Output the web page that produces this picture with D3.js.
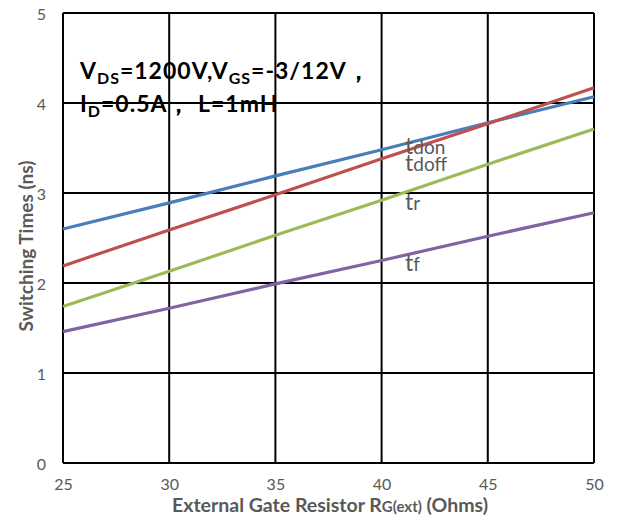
<!DOCTYPE html>
<html>
<head>
<meta charset="utf-8">
<script src="https://cdn.jsdelivr.net/npm/d3@7"></script>
<style>
  html, body { margin: 0; padding: 0; background: #fff; }
  svg { display: block; font-family: Lato, "Open Sans", sans-serif; }
</style>
</head>
<body>
<svg id="chart" width="617" height="517"></svg>
<script>
// Gate resistance (Ohms)
const rg = [25, 30, 35, 40, 45, 50];
// Switching times (ns)
const tdon  = [2.60, 2.89, 3.19, 3.48, 3.78, 4.07];
const tdoff = [2.19, 2.59, 2.98, 3.38, 3.77, 4.17];
const tr    = [1.74, 2.13, 2.53, 2.92, 3.32, 3.71];
const tf    = [1.46, 1.72, 1.99, 2.25, 2.52, 2.78];
const xTicks = [25, 30, 35, 40, 45, 50];
const yTicks = [0, 1, 2, 3, 4, 5];

const series = [
  { name: "don",  values: tdon,  color: "#4a7ebb", labelY: 154 },
  { name: "doff", values: tdoff, color: "#c0504d", labelY: 171 },
  { name: "r",    values: tr,    color: "#9bbb59", labelY: 210 },
  { name: "f",    values: tf,    color: "#8064a2", labelY: 271 }
];

const svg = d3.select("#chart");
const plotL = 63, plotR = 594, plotT = 13, plotB = 463;

const x = d3.scaleLinear().domain([25, 50]).range([plotL, plotR]);
const y = d3.scaleLinear().domain([0, 5]).range([plotB, plotT]);

// grid
const g = svg.append("g");
g.selectAll("line.v").data(xTicks).join("line")
  .attr("x1", d => x(d)).attr("x2", d => x(d))
  .attr("y1", plotT).attr("y2", plotB)
  .attr("stroke", "#000").attr("stroke-width", 2);
g.selectAll("line.h").data(yTicks).join("line")
  .attr("x1", plotL).attr("x2", plotR)
  .attr("y1", d => y(d)).attr("y2", d => y(d))
  .attr("stroke", "#000").attr("stroke-width", 2);

// axes tick labels
const yAxis = d3.axisLeft(y).tickValues(yTicks).tickFormat(d3.format("d"))
  .tickSize(0).tickPadding(17);
const ya = svg.append("g").attr("transform", `translate(${plotL},1)`).call(yAxis);
ya.select(".domain").remove();
ya.selectAll("text").attr("fill", "#595959").attr("font-size", 16)
  .attr("font-family", "Lato, 'Open Sans', sans-serif");

const xAxis = d3.axisBottom(x).tickValues(xTicks).tickFormat(d3.format("d"))
  .tickSize(0).tickPadding(16);
const xa = svg.append("g").attr("transform", `translate(0,${plotB})`).call(xAxis);
xa.select(".domain").remove();
xa.selectAll("text").attr("fill", "#595959").attr("font-size", 16)
  .attr("font-family", "Lato, 'Open Sans', sans-serif");

// lines
const line = d3.line().x((d, i) => x(rg[i])).y(d => y(d));
svg.selectAll("path.s").data(series).join("path")
  .attr("d", d => line(d.values))
  .attr("fill", "none").attr("stroke", d => d.color).attr("stroke-width", 3.2);

// line labels
series.forEach(s => {
  const t = svg.append("text").attr("x", 405).attr("y", s.labelY)
    .attr("fill", "#595959");
  t.append("tspan").attr("font-size", 23).text("t");
  t.append("tspan").attr("font-size", 19).text(s.name);
});

// test conditions
const ann = svg.append("text").attr("x", 80).attr("y", 79)
  .attr("font-size", 23).attr("font-weight", "bold").attr("fill", "#000")
  .attr("letter-spacing", 1);
ann.append("tspan").text("V");
ann.append("tspan").attr("font-size", 16).attr("dy", 5).text("DS");
ann.append("tspan").attr("dy", -5).text("=1200V,V");
ann.append("tspan").attr("font-size", 16).attr("dy", 5).text("GS");
ann.append("tspan").attr("dy", -5).text("=-3/12V，");

const ann2 = svg.append("text").attr("x", 80).attr("y", 112)
  .attr("font-size", 23).attr("font-weight", "bold").attr("fill", "#000")
  .attr("letter-spacing", 1);
ann2.append("tspan").text("I");
ann2.append("tspan").attr("font-size", 16).attr("dy", 5).text("D");
ann2.append("tspan").attr("dy", -5).text("=0.5A，  L=1mH");

// axis titles
svg.append("text")
  .attr("transform", "translate(33,246) rotate(-90)")
  .attr("text-anchor", "middle").attr("font-size", 19).attr("font-weight", "bold")
  .attr("fill", "#595959").text("Switching Times (ns)");

const xt = svg.append("text").attr("x", 330).attr("y", 512)
  .attr("text-anchor", "middle").attr("font-size", 19.5).attr("font-weight", "bold")
  .attr("fill", "#595959");
xt.append("tspan").text("External Gate Resistor R");
xt.append("tspan").attr("font-size", 15).text("G(ext)");
xt.append("tspan").text(" (Ohms)");
</script>
</body>
</html>
